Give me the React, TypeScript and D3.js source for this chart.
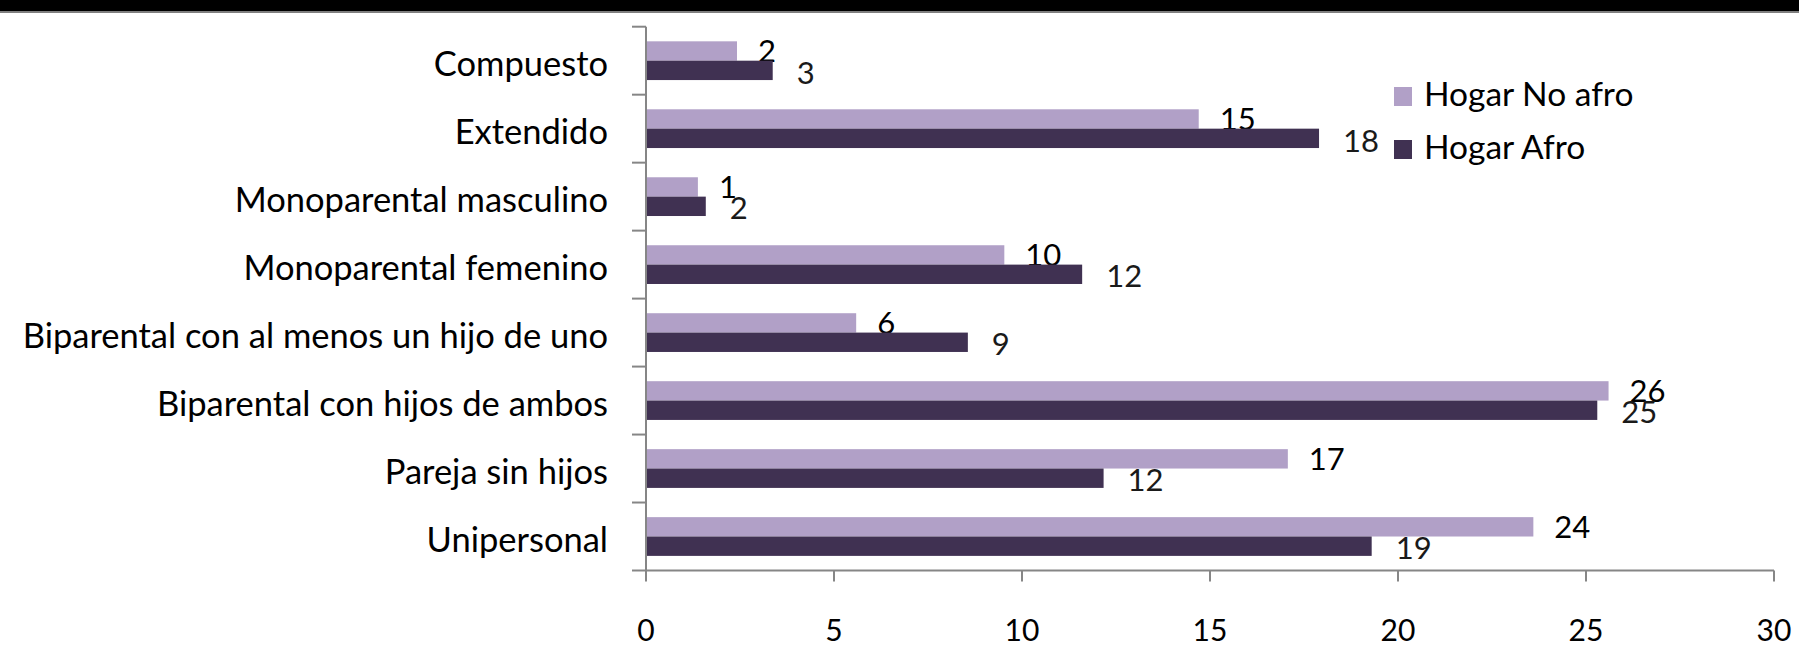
import { useEffect, useRef } from 'react'
import * as d3 from 'd3'

const categories = [
  'Compuesto',
  'Extendido',
  'Monoparental masculino',
  'Monoparental femenino',
  'Biparental con al menos un hijo de uno',
  'Biparental con hijos de ambos',
  'Pareja sin hijos',
  'Unipersonal'
]
const seriesNames = ['Hogar No afro', 'Hogar Afro']
const noAfro = [2.42, 14.7, 1.38, 9.53, 5.59, 25.6, 17.07, 23.6]
const afro = [3.37, 17.9, 1.59, 11.6, 8.56, 25.3, 12.17, 19.3]
const xTicks = [0, 5, 10, 15, 20, 25, 30]

const WIDTH = 1799
const HEIGHT = 669
const FONT = 'Lato, "Open Sans", sans-serif'

export default function App() {
  const svgRef = useRef<SVGSVGElement>(null)

  useEffect(() => {
    if (!svgRef.current) return
    const svg = d3.select(svgRef.current)
    svg.selectAll('*').remove()

    const left = 646
    const right = 1774
    const top = 26.7
    const bottom = 570.5
    const axisColor = '#868686'
    const colors = ['#b1a0c7', '#403152']

    svg.append('rect').attr('width', WIDTH).attr('height', HEIGHT).attr('fill', '#fff')

    // black band at the top
    svg.append('rect').attr('x', 0).attr('y', 0).attr('width', WIDTH).attr('height', 11).attr('fill', '#000')
    svg.append('rect').attr('x', 0).attr('y', 11).attr('width', WIDTH).attr('height', 2).attr('fill', '#7f7f7f')

    const x = d3.scaleLinear().domain([0, 30]).range([left, right])
    const y = d3.scaleBand<string>()
      .domain(categories)
      .range([top, bottom])
      .paddingInner(0.43)
      .paddingOuter(0.215)
    const sub = d3.scaleBand<string>()
      .domain(seriesNames)
      .range([0, y.bandwidth()])

    const step = y.step()

    // bars
    const series = [noAfro, afro]
    series.forEach((vals, si) => {
      const g = svg.append('g')
      g.selectAll('rect')
        .data(vals)
        .enter()
        .append('rect')
        .attr('x', x(0))
        .attr('y', (_d: number, i: number) => (y(categories[i]) as number) + (sub(seriesNames[si]) as number))
        .attr('width', (d: number) => x(d) - x(0))
        .attr('height', sub.bandwidth())
        .attr('fill', colors[si])

      g.selectAll('text')
        .data(vals)
        .enter()
        .append('text')
        .attr('x', (d: number) => x(d) + (si === 0 ? 21 : 24))
        .attr('y', (_d: number, i: number) => (y(categories[i]) as number) + (sub(seriesNames[si]) as number) + sub.bandwidth() / 2 + (si === 0 ? 0 : 2))
        .attr('dy', '0.36em')
        .attr('font-family', FONT)
        .attr('font-size', 31)
        .attr('fill', si === 0 ? '#000' : '#1a1a1a')
        .text((d: number) => Math.round(d))
    })

    // y axis
    svg.append('line')
      .attr('x1', left).attr('x2', left)
      .attr('y1', top).attr('y2', bottom)
      .attr('stroke', axisColor).attr('stroke-width', 2)
    const boundaries = categories.map((c) => (y(c) as number) - (step - y.bandwidth()) / 2)
    boundaries.push(bottom)
    svg.append('g').selectAll('line')
      .data(boundaries)
      .enter()
      .append('line')
      .attr('x1', left - 14).attr('x2', left)
      .attr('y1', (d: number) => d).attr('y2', (d: number) => d)
      .attr('stroke', axisColor).attr('stroke-width', 2)

    svg.append('g').selectAll('text')
      .data(categories)
      .enter()
      .append('text')
      .attr('x', 608)
      .attr('y', (d: string) => (y(d) as number) + y.bandwidth() / 2 + 3)
      .attr('dy', '0.36em')
      .attr('text-anchor', 'end')
      .attr('font-family', FONT)
      .attr('font-size', 34.5)
      .attr('fill', '#000')
      .text((d: string) => d)

    // x axis
    svg.append('line')
      .attr('x1', left).attr('x2', right)
      .attr('y1', bottom).attr('y2', bottom)
      .attr('stroke', axisColor).attr('stroke-width', 2)
    svg.append('g').selectAll('line')
      .data(xTicks)
      .enter()
      .append('line')
      .attr('x1', (d: number) => x(d)).attr('x2', (d: number) => x(d))
      .attr('y1', bottom).attr('y2', bottom + 11)
      .attr('stroke', axisColor).attr('stroke-width', 2)
    svg.append('g').selectAll('text')
      .data(xTicks)
      .enter()
      .append('text')
      .attr('x', (d: number) => x(d))
      .attr('y', 630)
      .attr('dy', '0.36em')
      .attr('text-anchor', 'middle')
      .attr('font-family', FONT)
      .attr('font-size', 30)
      .attr('fill', '#000')
      .text((d: number) => d)

    // legend
    const legend = svg.append('g').attr('transform', 'translate(1394, 87)')
    seriesNames.forEach((name, i) => {
      legend.append('rect')
        .attr('x', 0).attr('y', i * 53)
        .attr('width', 18).attr('height', 19)
        .attr('fill', colors[i])
      legend.append('text')
        .attr('x', 30).attr('y', i * 53 + 19)
        .attr('font-family', FONT)
        .attr('font-size', 33.5)
        .attr('fill', '#000')
        .text(name)
    })
  }, [])

  return (
    <svg
      ref={svgRef}
      width={WIDTH}
      height={HEIGHT}
      style={{ position: 'absolute', left: 0, top: 0 }}
    />
  )
}
